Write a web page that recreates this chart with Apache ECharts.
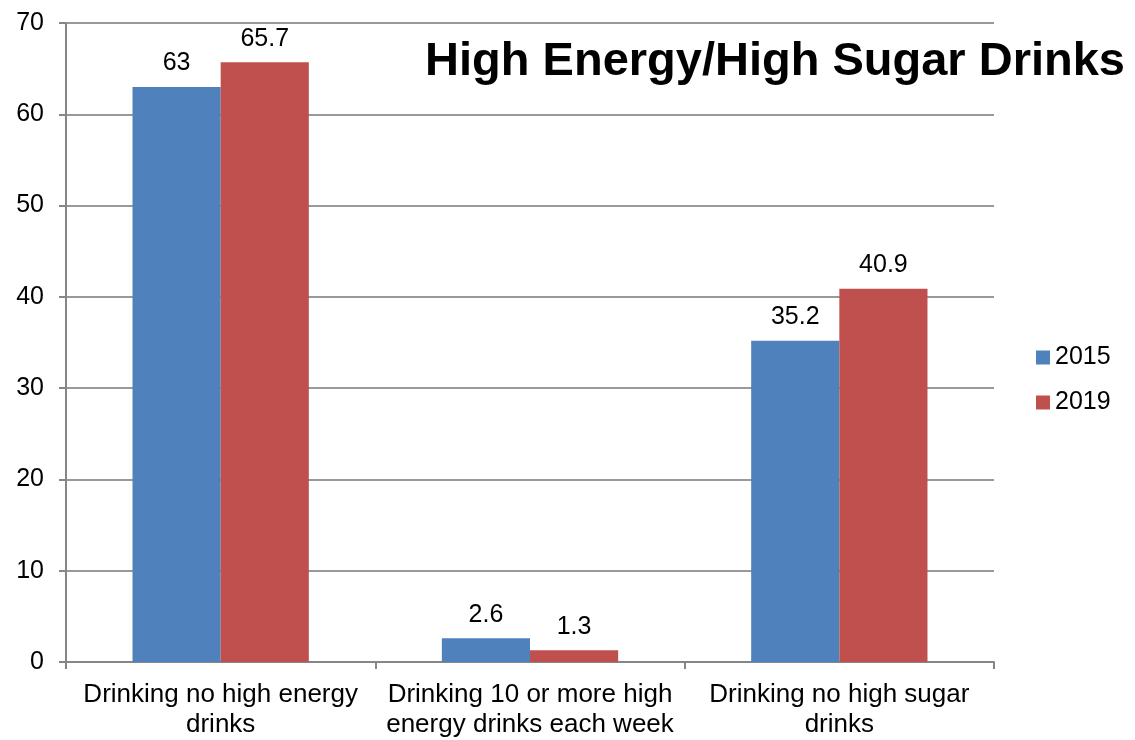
<!DOCTYPE html>
<html>
<head>
<meta charset="utf-8">
<script src="https://cdn.jsdelivr.net/npm/echarts@6/dist/echarts.min.js"></script>
<style>
  html, body { margin: 0; padding: 0; background: #fff; }
  #chart { width: 1135px; height: 740px; }
</style>
</head>
<body>
<div id="chart"></div>
<script>
// Survey categories and yearly percentages
const categories = [
  'Drinking no high energy\ndrinks',
  'Drinking 10 or more high\nenergy drinks each week',
  'Drinking no high sugar\ndrinks'
];
const years = ['2015', '2019'];
const values2015 = [63, 2.6, 35.2];
const values2019 = [65.7, 1.3, 40.9];
const yTicks = { min: 0, max: 70, interval: 10 };

const FONT = '"Liberation Sans", Arial, sans-serif';
const axisGray = '#868686';

const chart = echarts.init(document.getElementById('chart'));

const labelStyle = {
  show: true,
  position: 'top',
  distance: 11,
  color: '#000',
  fontFamily: FONT,
  fontSize: 25
};

chart.setOption({
  animation: false,
  backgroundColor: '#ffffff',
  title: {
    text: 'High Energy/High Sugar Drinks',
    right: 5,
    top: 34,
    textStyle: { fontFamily: FONT, fontSize: 47, fontWeight: 'bold', color: '#000' }
  },
  legend: {
    data: years,
    orient: 'vertical',
    left: 1031,
    top: 340,
    itemWidth: 14,
    itemHeight: 14,
    itemGap: 20,
    icon: 'rect',
    textStyle: { fontFamily: FONT, fontSize: 25, lineHeight: 25, color: '#000' }
  },
  grid: { left: 66, right: 141, top: 23, bottom: 75, containLabel: false },
  xAxis: {
    type: 'category',
    data: categories,
    axisLine: { lineStyle: { color: axisGray, width: 2 } },
    axisTick: { show: true, length: 7, lineStyle: { color: axisGray, width: 2 } },
    axisLabel: {
      color: '#000', fontFamily: FONT, fontSize: 26, margin: 18,
      lineHeight: 30, interval: 0
    }
  },
  yAxis: {
    type: 'value',
    min: yTicks.min,
    max: yTicks.max,
    interval: yTicks.interval,
    axisLine: { show: true, lineStyle: { color: axisGray, width: 2 } },
    axisTick: { show: true, length: 7, lineStyle: { color: axisGray, width: 2 } },
    axisLabel: { color: '#000', fontFamily: FONT, fontSize: 25, margin: 22 },
    splitLine: { lineStyle: { color: '#999999', width: 2 } }
  },
  series: [
    {
      name: years[0],
      type: 'bar',
      data: values2015,
      barGap: '0%',
      barCategoryGap: '43%',
      itemStyle: { color: '#4F81BD' },
      label: labelStyle
    },
    {
      name: years[1],
      type: 'bar',
      data: values2019,
      itemStyle: { color: '#C0504D' },
      label: labelStyle
    }
  ]
});
</script>
</body>
</html>
